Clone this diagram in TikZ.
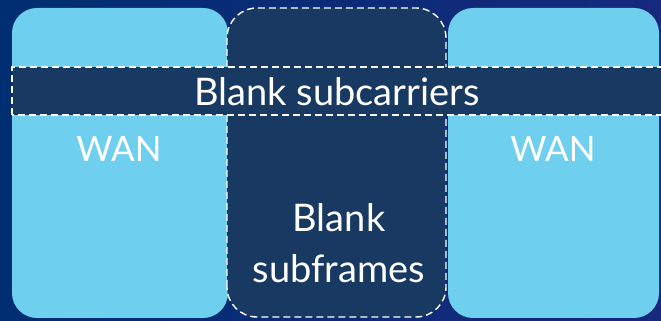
\documentclass[tikz,border=0pt]{standalone}
\usepackage{fontspec}
\setmainfont{Lato}
\definecolor{bgL}{HTML}{002E72}
\definecolor{bgR}{HTML}{16297C}
\definecolor{wan}{HTML}{6FCFEF}
\definecolor{blank}{HTML}{183A62}
\tikzset{
  wanbox/.style={fill=wan, rounded corners=25pt},
  blankbox/.style={fill=blank, draw=white, line width=1.4pt, dash pattern=on 7pt off 4pt},
  lbl/.style={text=white, font=\fontsize{38}{44}\selectfont, inner sep=0pt},
}
\begin{document}
\begin{tikzpicture}[x=1pt,y=1pt]
\useasboundingbox (0,0) rectangle (661,321);
\shade[left color=bgL, right color=bgR] (0,0) rectangle (661,321);
\clip (0,0) rectangle (661,321);
\fill[wanbox] (12,3) rectangle (228,313);
\fill[wanbox] (448,3) rectangle (659,313);
\draw[blankbox, rounded corners=30pt] (227,4) rectangle (446,313);
\draw[blankbox] (12,206) rectangle (680,254);
\node[lbl] (sc) at (337,229) {Blank subcarriers};
\node[lbl, font=\fontsize{35}{40}\selectfont] (w1) at (119,172.5) {WAN};
\node[lbl, font=\fontsize{35}{40}\selectfont] (w2) at (553,172.5) {WAN};
\node[lbl, align=center, font=\fontsize{38}{51}\selectfont] (sf) at (339,78) {Blank\\subframes};
\end{tikzpicture}
\end{document}
